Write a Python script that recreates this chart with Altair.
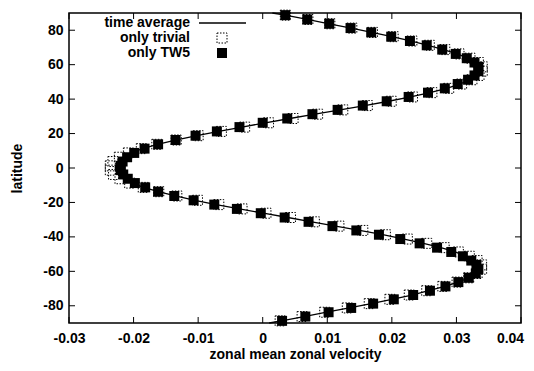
import altair as alt
import pandas as pd

# marker latitudes (deg)
lat = [-88.75, -86.25, -83.75, -81.25, -78.75, -76.25, -73.75, -71.25, -68.75, -66.25,
       -63.75, -61.25, -58.75, -56.25, -53.75, -51.25, -48.75, -46.25, -43.75, -41.25,
       -38.75, -36.25, -33.75, -31.25, -28.75, -26.25, -23.75, -21.25, -18.75, -16.25,
       -13.75, -11.25, -8.75, -6.25, -3.75, -1.25,
       1.25, 3.75, 6.25, 8.75, 11.25, 13.75, 16.25, 18.75, 21.25, 23.75,
       26.25, 28.75, 31.25, 33.75, 36.25, 38.75, 41.25, 43.75, 46.25, 48.75,
       51.25, 53.75, 56.25, 58.75, 61.25, 63.75, 66.25, 68.75, 71.25, 73.75,
       76.25, 78.75, 81.25, 83.75, 86.25, 88.75]

u_tw5 = [0.0030, 0.0066, 0.0102, 0.0137, 0.0171, 0.0203, 0.0233, 0.0259, 0.0283, 0.0303,
         0.0319, 0.0330, 0.0334, 0.0331, 0.0323, 0.0310, 0.0292, 0.0270, 0.0243, 0.0213,
         0.0180, 0.0145, 0.0108, 0.0071, 0.0034, -0.0003, -0.0040, -0.0075, -0.0107, -0.0137,
         -0.0162, -0.0182, -0.0198, -0.0209, -0.0216, -0.0220,
         -0.0220, -0.0217, -0.0210, -0.0199, -0.0183, -0.0162, -0.0135, -0.0104, -0.0071, -0.0036,
         0.0000, 0.0038, 0.0077, 0.0116, 0.0155, 0.0192, 0.0226, 0.0256, 0.0282, 0.0302,
         0.0318, 0.0328, 0.0334, 0.0334, 0.0328, 0.0316, 0.0299, 0.0278, 0.0254, 0.0228,
         0.0199, 0.0168, 0.0136, 0.0103, 0.0069, 0.0035]

u_trivial = [0.0027, 0.0061, 0.0096, 0.0131, 0.0165, 0.0197, 0.0227, 0.0254, 0.0279, 0.0301,
             0.0319, 0.0332, 0.0339, 0.0339, 0.0332, 0.0320, 0.0303, 0.0281, 0.0254, 0.0224,
             0.0190, 0.0155, 0.0118, 0.0080, 0.0043, 0.0005, -0.0032, -0.0068, -0.0101, -0.0133,
             -0.0161, -0.0185, -0.0206, -0.0221, -0.0231, -0.0236,
             -0.0236, -0.0232, -0.0222, -0.0208, -0.0188, -0.0164, -0.0134, -0.0100, -0.0064, -0.0028,
             0.0009, 0.0047, 0.0085, 0.0124, 0.0162, 0.0199, 0.0232, 0.0262, 0.0288, 0.0308,
             0.0324, 0.0335, 0.0340, 0.0340, 0.0334, 0.0321, 0.0304, 0.0282, 0.0258, 0.0231,
             0.0202, 0.0170, 0.0138, 0.0104, 0.0070, 0.0035]

# time average curve (grid plus the poles)
lat_avg = [-90.0] + lat + [90.0]
u_avg = [0.0010,
         0.0029, 0.0064, 0.0099, 0.0134, 0.0168, 0.0200, 0.0231, 0.0257, 0.0282, 0.0303,
         0.0320, 0.0332, 0.0338, 0.0336, 0.0328, 0.0315, 0.0298, 0.0276, 0.0249, 0.0219,
         0.0186, 0.0150, 0.0113, 0.0076, 0.0039, 0.0001, -0.0036, -0.0072, -0.0105, -0.0135,
         -0.0162, -0.0184, -0.0203, -0.0216, -0.0224, -0.0228,
         -0.0228, -0.0225, -0.0216, -0.0204, -0.0186, -0.0163, -0.0135, -0.0102, -0.0068, -0.0032,
         0.0004, 0.0042, 0.0081, 0.0120, 0.0158, 0.0195, 0.0229, 0.0259, 0.0285, 0.0305,
         0.0321, 0.0332, 0.0337, 0.0337, 0.0331, 0.0318, 0.0301, 0.0280, 0.0256, 0.0229,
         0.0200, 0.0169, 0.0137, 0.0103, 0.0069, 0.0035,
         0.0015]

x_ticks = [-0.03, -0.02, -0.01, 0.0, 0.01, 0.02, 0.03, 0.04]
y_ticks = [-80, -60, -40, -20, 0, 20, 40, 60, 80]
legend_labels = ["time average", "only trivial", "only TW5"]

W, H = 452, 310
FONT = "Liberation Sans"

df_tw5 = pd.DataFrame({"u": u_tw5, "lat": lat})
df_tri = pd.DataFrame({"u": u_trivial, "lat": lat})
df_avg = pd.DataFrame({"u": u_avg, "lat": lat_avg})

xscale = alt.Scale(domain=[-0.03, 0.04], nice=False, zero=False)
yscale = alt.Scale(domain=[-90, 90], nice=False, zero=False)

x_lab = "datum.value == 0 ? '0' : (datum.value < 0 ? '-' : '') + format(abs(datum.value), '.2f')"
y_lab = "(datum.value < 0 ? '-' : '') + format(abs(datum.value), 'd')"

xaxis = alt.Axis(values=x_ticks, labelExpr=x_lab, tickSize=0, domain=False, grid=False,
                 labelFlush=False, labelOverlap=False, labelBound=False,
                 labelOffset={"condition": {"test": "datum.value > 0.035", "value": -11},
                              "value": 0},
                 labelFont=FONT, labelFontSize=14, labelFontWeight="bold", labelColor="black",
                 labelPadding=8, title="zonal mean zonal velocity", titleFont=FONT,
                 titleFontSize=14, titleFontWeight="bold", titleColor="black",
                 titleY=31, titleBaseline="middle")
yaxis = alt.Axis(values=y_ticks, labelExpr=y_lab, tickSize=0, domain=False, grid=False,
                 labelFlush=False, labelOverlap=False, labelBound=False,
                 labelFont=FONT, labelFontSize=14, labelFontWeight="bold", labelColor="black",
                 labelPadding=6, title="latitude", titleFont=FONT, titleFontSize=14,
                 titleFontWeight="bold", titleColor="black", titleX=-52, titleY=H / 2,
                 titleAngle=270, titleBaseline="middle", titleAlign="center")

X = alt.X("u:Q", scale=xscale, axis=xaxis)
Y = alt.Y("lat:Q", scale=yscale, axis=yaxis)

avg_line = alt.Chart(df_avg).mark_line(color="black", strokeWidth=1.3).encode(
    x=X, y=Y, order="lat:Q")

tri_pts = alt.Chart(df_tri).mark_point(shape="square", filled=False, size=100, color="black",
                                       strokeWidth=1, strokeDash=[1.5, 1.5], opacity=1).encode(
    x=X, y=Y)

tw5_pts = alt.Chart(df_tw5).mark_point(shape="square", filled=True, size=100, color="black",
                                       opacity=1).encode(x=X, y=Y)

# inward ticks on all four sides
dfx = pd.DataFrame({"u": x_ticks})
dfy = pd.DataFrame({"lat": y_ticks})
tick_b = alt.Chart(dfx).mark_rule(color="black", strokeWidth=1).encode(
    x=X, y=alt.value(H), y2=alt.value(H - 6))
tick_t = alt.Chart(dfx).mark_rule(color="black", strokeWidth=1).encode(
    x=X, y=alt.value(0), y2=alt.value(6))
tick_l = alt.Chart(dfy).mark_rule(color="black", strokeWidth=1).encode(
    y=Y, x=alt.value(0), x2=alt.value(6))
tick_r = alt.Chart(dfy).mark_rule(color="black", strokeWidth=1).encode(
    y=Y, x=alt.value(W), x2=alt.value(W - 6))

# key (top left, inside the frame)
df_one = pd.DataFrame({"k": [0]})
key_rows = [10, 25, 40]
key_texts = [
    alt.Chart(df_one).mark_text(align="right", baseline="middle", font=FONT, fontSize=14,
                                fontWeight="bold", color="black", text=lbl).encode(
        x=alt.value(121), y=alt.value(ry))
    for lbl, ry in zip(legend_labels, key_rows)
]
key_line = alt.Chart(df_one).mark_rule(color="black", strokeWidth=1.3).encode(
    x=alt.value(130), x2=alt.value(177), y=alt.value(key_rows[0]))
key_tri = alt.Chart(df_one).mark_point(shape="square", filled=False, size=100,
                                       color="black", strokeWidth=1,
                                       strokeDash=[1.5, 1.5], opacity=1).encode(
    x=alt.value(153), y=alt.value(key_rows[1]))
key_tw5 = alt.Chart(df_one).mark_point(shape="square", filled=True, size=100,
                                       color="black", opacity=1).encode(
    x=alt.value(153), y=alt.value(key_rows[2]))

chart = alt.layer(
    avg_line, tick_b, tick_t, tick_l, tick_r, tri_pts, tw5_pts,
    *key_texts, key_line, key_tri, key_tw5
).properties(
    width=W, height=H,
    autosize=alt.AutoSizeParams(type="none"),
    padding={"left": 61, "top": 5, "right": 5, "bottom": 40},
    background="white",
).configure_view(stroke="black", strokeWidth=1.5).configure_axis(grid=False)

chart.save("out.html", embed_options={"renderer": "svg", "actions": False})
